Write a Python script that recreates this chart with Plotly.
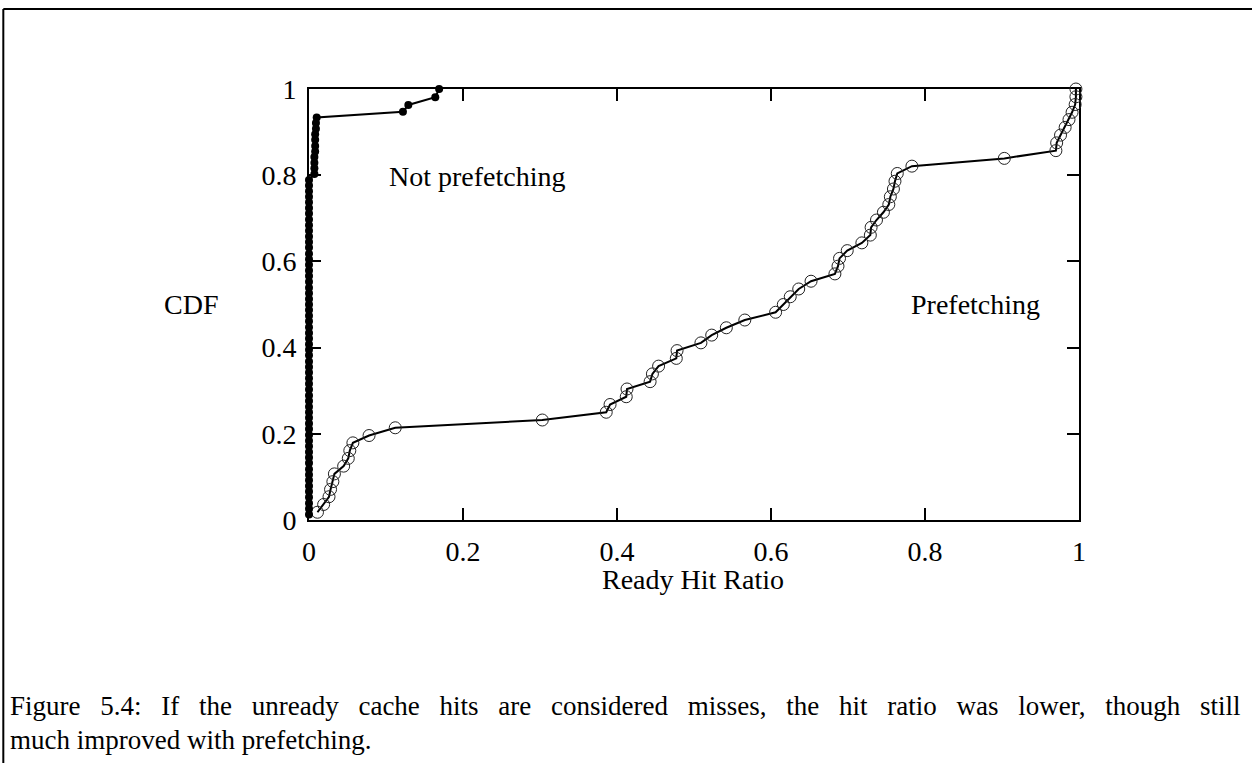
import plotly.graph_objects as go

# ---- data ----
tick_vals = [0, 0.2, 0.4, 0.6, 0.8, 1]
tick_text = ["0", "0.2", "0.4", "0.6", "0.8", "1"]

# Not prefetching (filled dots)
np_x = [0.0] * 60 + [0.007, 0.007, 0.007, 0.007, 0.008, 0.008, 0.008, 0.008, 0.009, 0.009, 0.010,
                     0.122, 0.129, 0.164, 0.169]
np_y = [0.013, 0.026, 0.039, 0.053, 0.066, 0.079, 0.092, 0.105, 0.118, 0.132,
        0.145, 0.158, 0.171, 0.184, 0.197, 0.211, 0.224, 0.237, 0.250, 0.263,
        0.276, 0.289, 0.303, 0.316, 0.329, 0.342, 0.355, 0.368, 0.382, 0.395,
        0.408, 0.421, 0.434, 0.447, 0.461, 0.474, 0.487, 0.500, 0.513, 0.526,
        0.539, 0.553, 0.566, 0.579, 0.592, 0.605, 0.618, 0.632, 0.645, 0.658,
        0.671, 0.684, 0.697, 0.711, 0.724, 0.737, 0.750, 0.763, 0.776, 0.789,
        0.803, 0.816, 0.829, 0.842, 0.855, 0.868, 0.882, 0.895, 0.908, 0.921, 0.934,
        0.947, 0.963, 0.981, 1.000]

# Prefetching (open circles)
pf_x = [0.011, 0.019, 0.026, 0.028, 0.031, 0.033, 0.045, 0.051, 0.053, 0.057,
        0.078, 0.112, 0.303, 0.386, 0.391, 0.412, 0.413, 0.443, 0.446, 0.454,
        0.477, 0.478, 0.509, 0.523, 0.542, 0.566, 0.606, 0.616, 0.625, 0.636,
        0.652, 0.683, 0.687, 0.689, 0.699, 0.718, 0.729, 0.730, 0.737, 0.746,
        0.753, 0.755, 0.759, 0.761, 0.764, 0.783, 0.903, 0.970, 0.971, 0.976,
        0.982, 0.987, 0.991, 0.995, 0.996, 0.996]
pf_y = [0.018, 0.036, 0.054, 0.071, 0.089, 0.107, 0.125, 0.143, 0.161, 0.179,
        0.196, 0.214, 0.232, 0.250, 0.268, 0.286, 0.304, 0.321, 0.339, 0.357,
        0.375, 0.393, 0.411, 0.429, 0.446, 0.464, 0.482, 0.500, 0.518, 0.536,
        0.554, 0.571, 0.589, 0.607, 0.625, 0.643, 0.661, 0.679, 0.696, 0.714,
        0.732, 0.750, 0.768, 0.786, 0.804, 0.821, 0.839, 0.857, 0.875, 0.893,
        0.911, 0.929, 0.946, 0.964, 0.982, 1.000]

FONT = "Liberation Serif"
FS = 28

fig = go.Figure()
fig.add_trace(go.Scatter(
    x=pf_x, y=pf_y, mode="lines+markers", name="Prefetching",
    line=dict(color="black", width=2),
    marker=dict(symbol="circle-open", size=12, color="#222222", line=dict(width=1)),
    cliponaxis=False, showlegend=False))
fig.add_trace(go.Scatter(
    x=np_x, y=np_y, mode="lines+markers", name="Not prefetching",
    line=dict(color="black", width=2),
    marker=dict(symbol="circle", size=8, color="black"),
    cliponaxis=False, showlegend=False))

axis_common = dict(
    range=[0, 1], showgrid=False, zeroline=False,
    showline=True, linecolor="black", linewidth=2, mirror="ticks",
    ticks="inside", ticklen=12, tickwidth=2, tickcolor="black",
    tickvals=tick_vals, ticktext=tick_text,
    tickfont=dict(family=FONT, size=FS, color="black"),
    ticklabelstandoff=5,
    layer="below traces", fixedrange=True)

fig.update_layout(
    width=1252, height=763,
    margin=dict(l=309, r=173, t=89, b=243),
    paper_bgcolor="white", plot_bgcolor="white",
    xaxis=dict(**axis_common),
    yaxis=dict(**axis_common),
    font=dict(family=FONT, size=FS, color="black"),
)

ann_font = dict(family=FONT, size=FS, color="black")
fig.add_annotation(x=0.219, y=0.796, xref="x", yref="y", text="Not prefetching",
                   showarrow=False, font=ann_font, xanchor="center", yanchor="middle")
fig.add_annotation(x=0.865, y=0.501, xref="x", yref="y", text="Prefetching",
                   showarrow=False, font=ann_font, xanchor="center", yanchor="middle")
fig.add_annotation(x=-0.153, y=0.501, xref="paper", yref="paper", text="CDF",
                   showarrow=False, font=ann_font, xanchor="center", yanchor="middle")
fig.add_annotation(x=0.4987, y=-0.137, xref="paper", yref="paper", text="Ready Hit Ratio",
                   showarrow=False, font=ann_font, xanchor="center", yanchor="middle")

cap_font = dict(family=FONT, size=27, color="black")
fig.add_annotation(x=-0.391, y=-0.4316, xref="paper", yref="paper", xanchor="left", yanchor="middle",
                   text='<span style="word-spacing:13px">Figure 5.4: If the unready cache hits are considered misses, the hit ratio was lower, though still</span>',
                   showarrow=False, font=cap_font)
fig.add_annotation(x=-0.391, y=-0.5105, xref="paper", yref="paper", xanchor="left", yanchor="middle",
                   text="much improved with prefetching.",
                   showarrow=False, font=cap_font)

# page frame lines (top and left)
fig.add_shape(type="line", xref="paper", yref="paper", x0=-0.397, x1=1.3, y0=1.1856, y1=1.1856,
              line=dict(color="black", width=2))
fig.add_shape(type="line", xref="paper", yref="paper", x0=-0.397, x1=-0.397, y0=1.1856, y1=-0.6,
              line=dict(color="black", width=2))

fig.write_html("out.html")
